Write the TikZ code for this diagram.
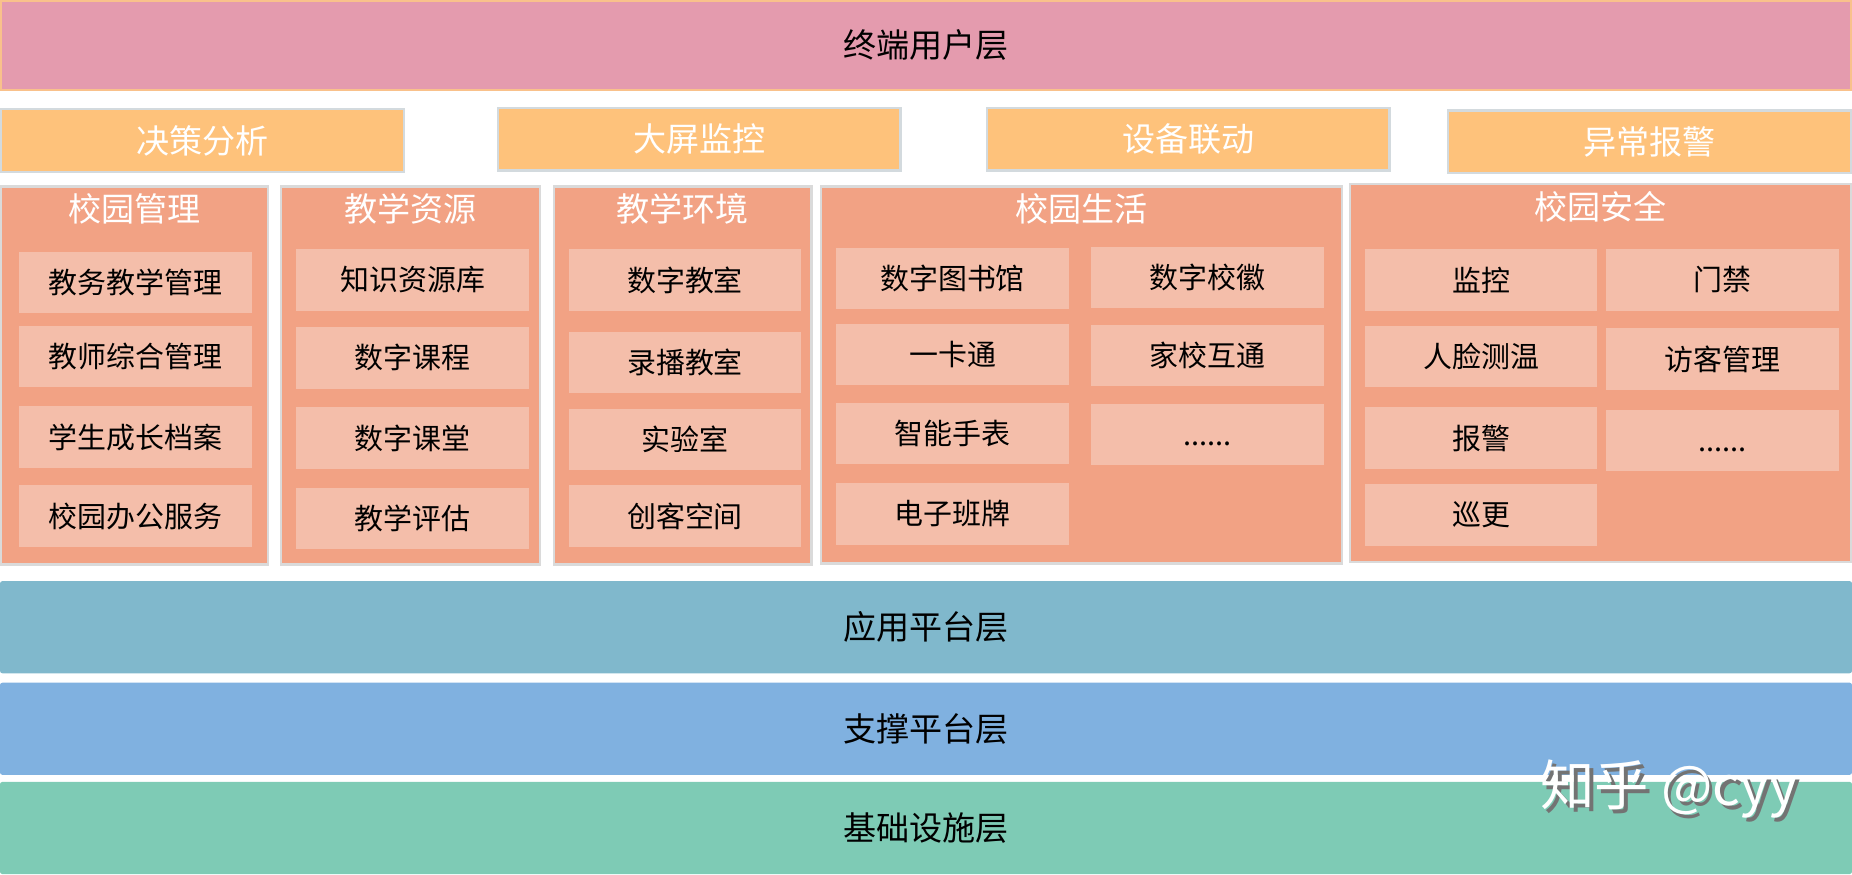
\documentclass[tikz,border=0pt]{standalone}
\usepackage{fontspec}
\setmainfont{Noto Sans CJK SC}
\usetikzlibrary{positioning}

\definecolor{userpink}{HTML}{E49BAE}
\definecolor{userline}{HTML}{F9C18B}
\definecolor{funcfill}{HTML}{FEC27B}
\definecolor{funcline}{HTML}{D3DADE}
\definecolor{panelfill}{HTML}{F2A284}
\definecolor{panelline}{HTML}{DADADA}
\definecolor{itemfill}{HTML}{F4BEAA}
\definecolor{appteal}{HTML}{80B8CC}
\definecolor{supblue}{HTML}{80B1E0}
\definecolor{infgreen}{HTML}{7ECBB5}

\def\etcdots{\vphantom{字}......}

\tikzset{
  layer/.style={fill=#1, minimum width=1568, minimum height=78, inner sep=0,
    rounded corners=2pt, font=\fontsize{28}{30}\selectfont},
  funcbox/.style={fill=funcfill, draw=funcline, line width=2pt, minimum width=341,
    minimum height=53, inner sep=0, text=white, font=\fontsize{28}{30}\selectfont},
  panel/.style={fill=panelfill, draw=panelline, line width=2pt, inner sep=0},
  ptitle/.style={text=white, inner sep=0, font=\fontsize{28}{30}\selectfont},
  item/.style={fill=itemfill, minimum width=197, minimum height=52, inner sep=0,
    font=\fontsize{24.5}{26}\selectfont}
}

\begin{document}
\begin{tikzpicture}[x=1pt,y=-1pt]
  \useasboundingbox (0,0) rectangle (1568,740);

  % top layer
  \node[fill=userpink, draw=userline, line width=2pt, minimum width=1566,
    minimum height=75, inner sep=0, font=\fontsize{28}{30}\selectfont]
    (user) at (784,38.5) {终端用户层};

  % functions
  \foreach \t/\x/\y [count=\i] in {决策分析/171.5/119, 大屏监控/592/118,
      设备联动/1006/118, 异常报警/1396.5/120}{
    \node[funcbox] (f\i) at (\x,\y) {\t};
  }

  % panels
  \node[panel, minimum width=226, minimum height=320] (p1) at (114,318) {};
  \node[panel, minimum width=219, minimum height=320] (p2) at (347.5,318) {};
  \node[panel, minimum width=218, minimum height=320] (p3) at (578,318) {};
  \node[panel, minimum width=441, minimum height=319] (p4) at (915.5,317.5) {};
  \node[panel, minimum width=424, minimum height=320] (p5) at (1355,316) {};

  \foreach \t [count=\i] in {校园管理,教学资源,教学环境,校园生活,校园安全}{
    \node[ptitle, yshift=-20pt] (t\i) at (p\i.north) {\t};
  }

  % 校园管理
  \foreach \t/\y [count=\i] in {教务教学管理/239, 教师综合管理/302,
      学生成长档案/370, 校园办公服务/437}{
    \node[item] (gl\i) at (114.5,\y) {\t};
  }
  % 教学资源
  \foreach \t/\y [count=\i] in {知识资源库/237, 数字课程/303,
      数字课堂/371, 教学评估/439}{
    \node[item] (zy\i) at (349.5,\y) {\t};
  }
  % 教学环境
  \foreach \t/\y [count=\i] in {数字教室/237, 录播教室/307,
      实验室/372, 创客空间/437}{
    \node[item] (hj\i) at (580,\y) {\t};
  }
  % 校园生活
  \foreach \t/\y [count=\i] in {数字图书馆/236, 一卡通/300,
      智能手表/367, 电子班牌/435}{
    \node[item] (sha\i) at (806.5,\y) {\t};
  }
  \foreach \t/\y [count=\i] in {数字校徽/235, 家校互通/301, \etcdots/368}{
    \node[item] (shb\i) at (1022.5,\y) {\t};
  }
  % 校园安全
  \foreach \t/\y [count=\i] in {监控/237, 人脸测温/302, 报警/371, 巡更/436}{
    \node[item] (aqa\i) at (1254,\y) {\t};
  }
  \foreach \t/\y [count=\i] in {门禁/237, 访客管理/304, \etcdots/373}{
    \node[item] (aqb\i) at (1458.5,\y) {\t};
  }

  % lower layers
  \node[layer=appteal] (app) at (784,531) {应用平台层};
  \node[layer=supblue] (sup) at (784,617) {支撑平台层};
  \node[layer=infgreen] (inf) at (784,701) {基础设施层};

  % watermark
  \node[text=black!55, inner sep=0, font=\fontsize{46}{48}\selectfont]
    (wms) at (1416,671) {知乎 @cyy};
  \node[text=white, inner sep=0, font=\fontsize{46}{48}\selectfont]
    (wm) at (1413,668) {知乎 @cyy};
\end{tikzpicture}
\end{document}
